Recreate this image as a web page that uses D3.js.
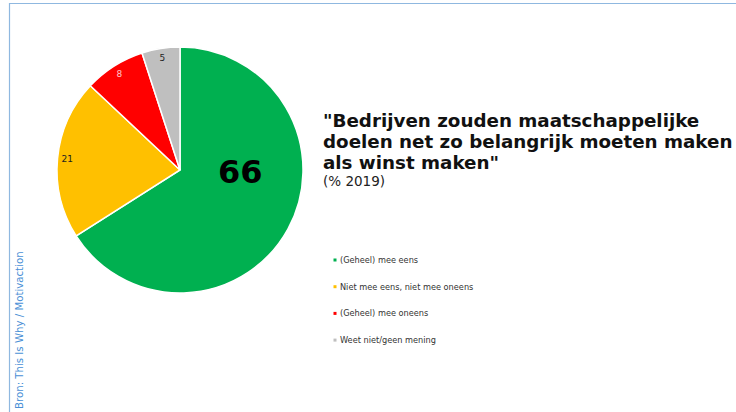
<!DOCTYPE html>
<html>
<head>
<meta charset="utf-8">
<script src="https://cdn.jsdelivr.net/npm/d3@7"></script>
<style>
  html, body { margin: 0; padding: 0; background: #fff; }
  svg { display: block; }
</style>
</head>
<body>
<svg id="chart" width="736" height="412"></svg>
<script>
// data
const categories = ["(Geheel) mee eens", "Niet mee eens, niet mee oneens", "(Geheel) mee oneens", "Weet niet/geen mening"];
const values = [66, 21, 8, 5];
const colors = ["#00b050", "#ffc000", "#ff0000", "#bfbfbf"];
const labelColors = ["#000", "#222", "#ffc7c7", "#222"];
const titleLines = ["\"Bedrijven zouden maatschappelijke", "doelen net zo belangrijk moeten maken", "als winst maken\""];
const subtitle = "(% 2019)";
const source = "Bron: This Is Why / Motivaction";

const svg = d3.select("#chart");
const W = 736, H = 412;

// frame lines (top + left)
svg.append("line").attr("x1", 9).attr("x2", W).attr("y1", 3.5).attr("y2", 3.5)
  .attr("stroke", "#8fb8e0").attr("stroke-width", 1.2);
svg.append("line").attr("x1", 9.5).attr("x2", 9.5).attr("y1", 3).attr("y2", H)
  .attr("stroke", "#8fb8e0").attr("stroke-width", 1.2);

// source
svg.append("text")
  .attr("transform", "translate(23,409) rotate(-90)")
  .attr("font-family", "DejaVu Sans, Verdana, sans-serif")
  .attr("font-size", 10.2)
  .attr("fill", "#4a8fd6")
  .text(source);

// pie
const cx = 180, cy = 170, R = 123;
const pie = d3.pie().sort(null).value(d => d);
const arcs = pie(values);
const arc = d3.arc().innerRadius(0).outerRadius(R);
const labelArc = d3.arc().innerRadius(R * 0.92).outerRadius(R * 0.92);

const g = svg.append("g").attr("transform", `translate(${cx},${cy})`);
g.selectAll("path.slice")
  .data(arcs)
  .enter()
  .append("path")
  .attr("class", "slice")
  .attr("d", arc)
  .attr("fill", (d, i) => colors[i])
  .attr("stroke", "#fff")
  .attr("stroke-width", 1.5);

// slice labels: the big one sits inside, the others near the rim
g.selectAll("text.lbl")
  .data(arcs)
  .enter()
  .append("text")
  .attr("class", "lbl")
  .attr("transform", (d, i) => {
    if (i === 0) return `translate(${R * 0.49},${R * 0.02})`;
    const c = labelArc.centroid(d);
    return `translate(${c[0]},${c[1]})`;
  })
  .attr("text-anchor", "middle")
  .attr("dominant-baseline", "central")
  .attr("font-family", "DejaVu Sans, Verdana, sans-serif")
  .attr("font-weight", (d, i) => i === 0 ? "bold" : "normal")
  .attr("font-size", (d, i) => i === 0 ? 32 : 9)
  .attr("fill", (d, i) => labelColors[i])
  .text(d => d.data);

// title
const title = svg.append("text")
  .attr("font-family", "DejaVu Sans, Verdana, sans-serif")
  .attr("font-weight", "bold")
  .attr("font-size", 18.3)
  .attr("fill", "#111");
title.selectAll("tspan")
  .data(titleLines)
  .enter()
  .append("tspan")
  .attr("x", 323)
  .attr("y", (d, i) => 127 + i * 21)
  .text(d => d);

svg.append("text")
  .attr("x", 323).attr("y", 186)
  .attr("font-family", "DejaVu Sans, Verdana, sans-serif")
  .attr("font-size", 13.5)
  .attr("fill", "#222")
  .text(subtitle);

// legend
const legend = svg.append("g").selectAll("g")
  .data(categories)
  .enter()
  .append("g")
  .attr("transform", (d, i) => `translate(335,${260 + i * 26.7})`);
legend.append("rect")
  .attr("x", -1.5).attr("y", -1.5).attr("width", 3).attr("height", 3)
  .attr("fill", (d, i) => colors[i]);
legend.append("text")
  .attr("x", 5).attr("y", 0)
  .attr("dominant-baseline", "central")
  .attr("font-family", "DejaVu Sans, Verdana, sans-serif")
  .attr("font-size", 8.2)
  .attr("fill", "#333")
  .text(d => d);
</script>
</body>
</html>
